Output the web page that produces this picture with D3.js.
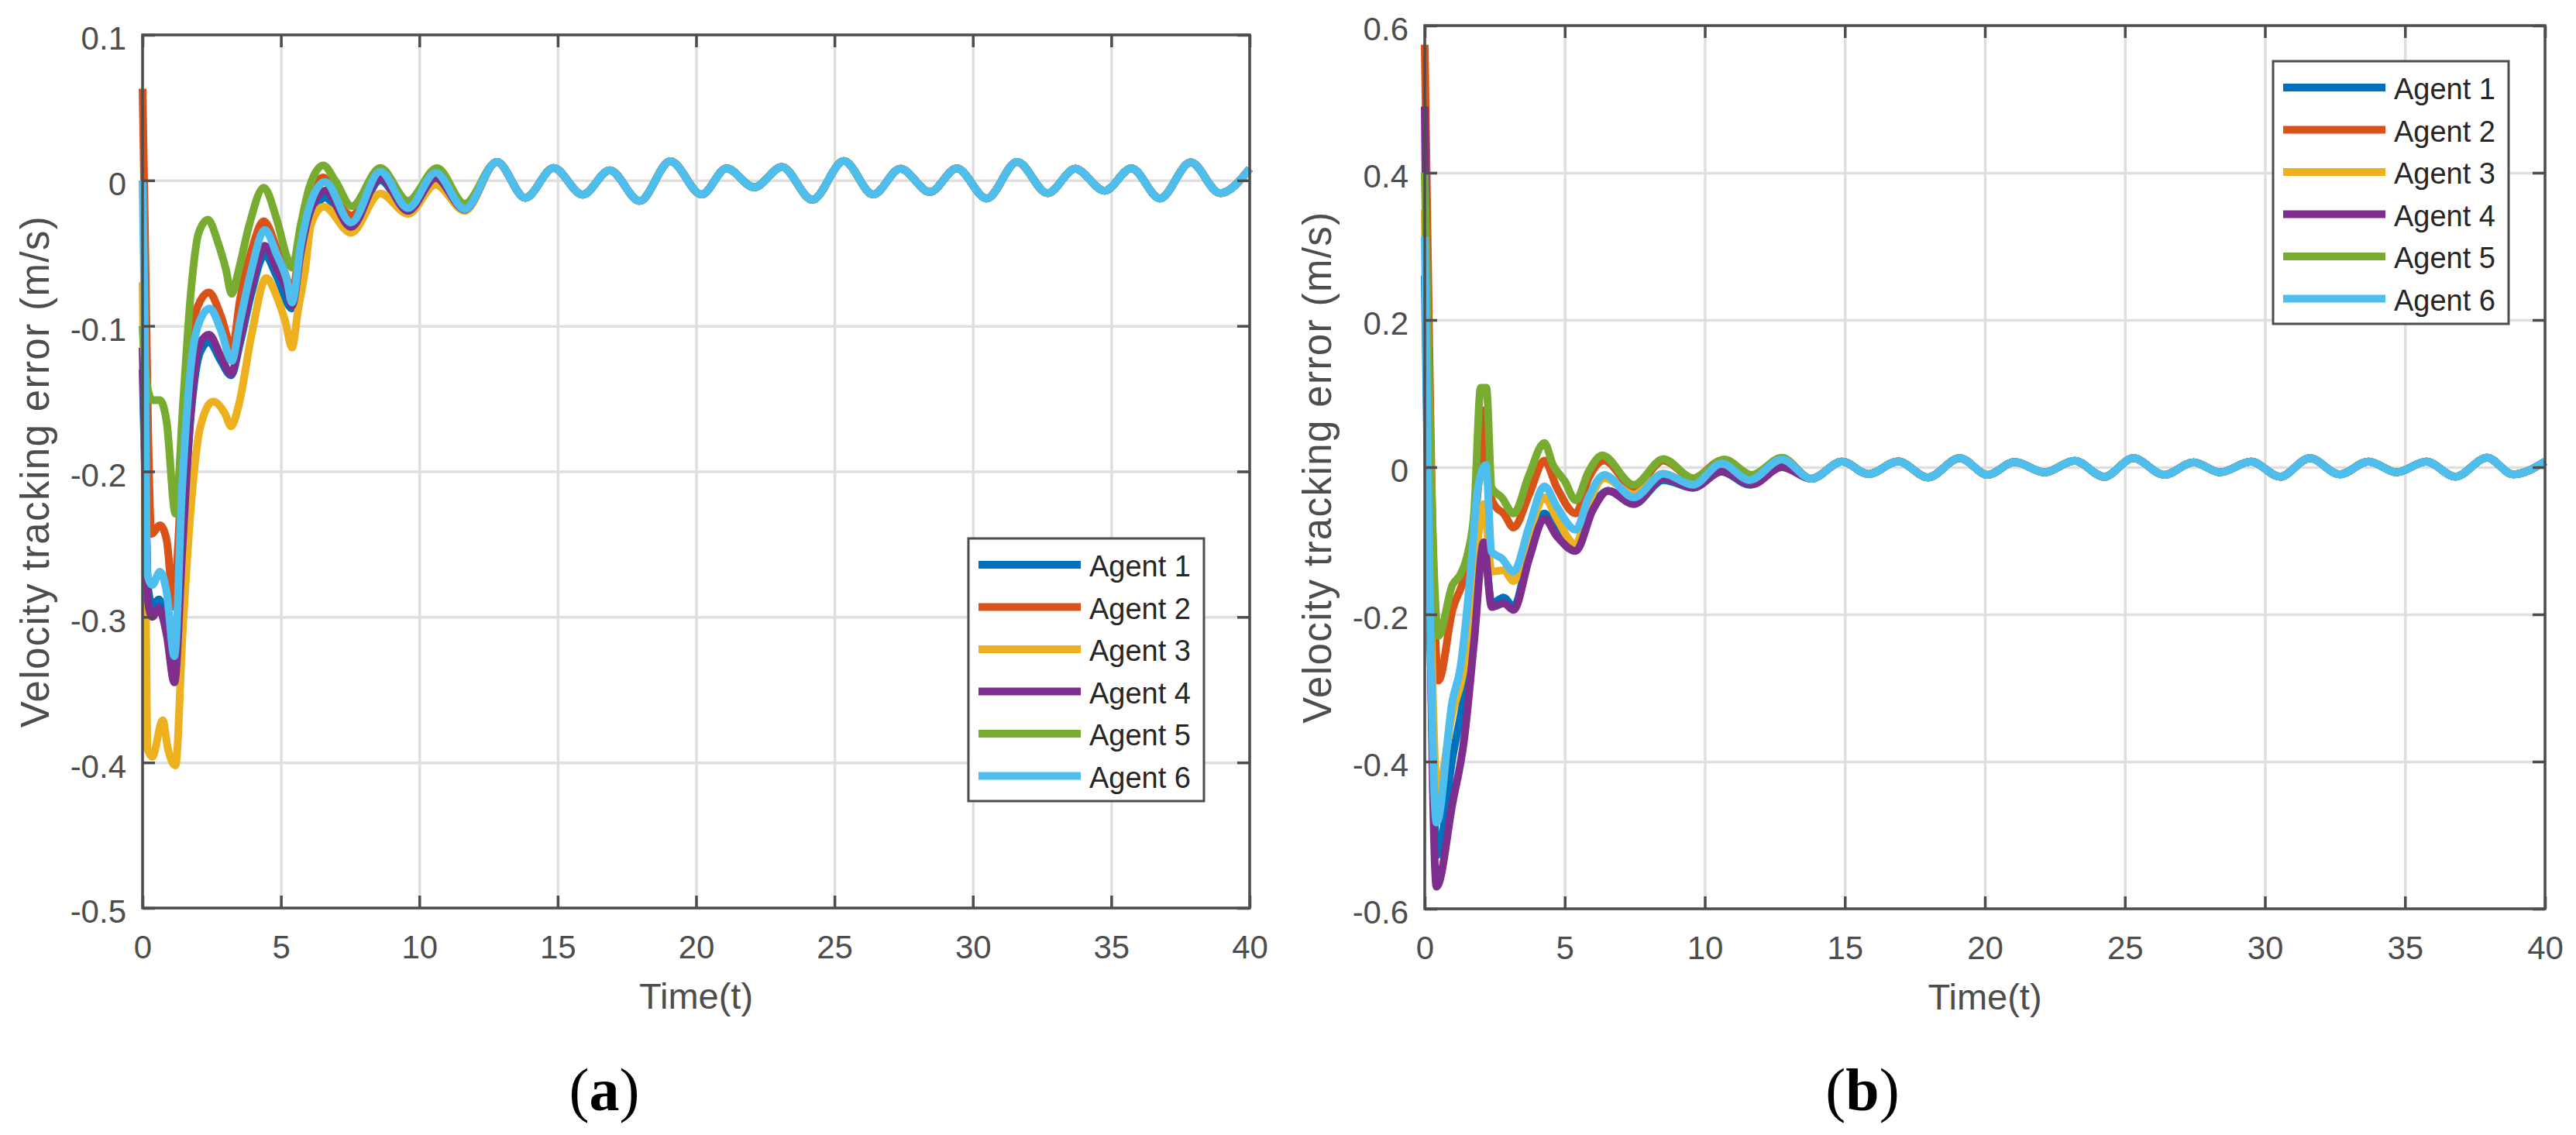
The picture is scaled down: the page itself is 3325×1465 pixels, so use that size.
<!DOCTYPE html>
<html>
<head>
<meta charset="utf-8">
<script src="https://cdn.jsdelivr.net/npm/d3@7"></script>
<style>
  body { margin: 0; background: #fff; }
  svg { display: block; }
</style>
</head>
<body>
<svg width="3325" height="1465"></svg>
<script>
// ---- data ----
const agents = ['Agent 1', 'Agent 2', 'Agent 3', 'Agent 4', 'Agent 5', 'Agent 6'];
const colors = ['#0072bd', '#d95319', '#edb120', '#7e2f8e', '#77ac30', '#4dbeee'];
const xTicks = [0, 5, 10, 15, 20, 25, 30, 35, 40];
const yTicksA = [-0.5, -0.4, -0.3, -0.2, -0.1, 0, 0.1];
const yTicksB = [-0.6, -0.4, -0.2, 0, 0.2, 0.4, 0.6];

// (a) transient part of each agent, [time, error]
const a1 = [[0,-0.13],[0.1,-0.21],[0.2,-0.28],[0.35,-0.292],[0.59,-0.288],[0.87,-0.308],[1.15,-0.339],[1.43,-0.25],[1.75,-0.16],[2.08,-0.118],[2.4,-0.111],[2.83,-0.124],[3.2,-0.134],[3.52,-0.112],[3.94,-0.077],[4.41,-0.051],[4.85,-0.066],[5.4,-0.088],[5.72,-0.055],[6.03,-0.03],[6.59,-0.012],[7.53,-0.032],[8.59,0.0],[9.59,-0.021],[10.59,0.0017],[11.64,-0.02]];
const a2 = [[0,0.063],[0.1,-0.05],[0.2,-0.17],[0.32,-0.243],[0.63,-0.237],[0.87,-0.247],[1.13,-0.293],[1.3,-0.245],[1.5,-0.17],[1.75,-0.108],[2.08,-0.083],[2.4,-0.077],[2.83,-0.093],[3.24,-0.115],[3.52,-0.082],[3.94,-0.048],[4.38,-0.028],[4.85,-0.047],[5.22,-0.068],[5.4,-0.078],[5.72,-0.038],[5.97,-0.015],[6.53,0.002],[6.97,-0.013],[7.56,-0.024],[8.59,0.004],[9.59,-0.018],[10.59,0.006],[11.64,-0.019]];
const a3 = [[0,-0.07],[0.08,-0.2],[0.17,-0.39],[0.35,-0.396],[0.73,-0.371],[0.91,-0.39],[1.19,-0.402],[1.45,-0.31],[1.75,-0.224],[2.08,-0.17],[2.55,-0.152],[2.97,-0.16],[3.2,-0.169],[3.48,-0.154],[3.94,-0.106],[4.47,-0.067],[4.85,-0.08],[5.16,-0.097],[5.4,-0.115],[5.62,-0.089],[5.87,-0.062],[6.09,-0.03],[6.55,-0.018],[7.53,-0.036],[8.59,-0.009],[9.59,-0.023],[10.59,-0.003],[11.64,-0.021]];
const a4 = [[0,-0.115],[0.1,-0.2],[0.2,-0.29],[0.35,-0.3],[0.59,-0.294],[0.87,-0.312],[1.15,-0.345],[1.43,-0.256],[1.75,-0.157],[2.08,-0.112],[2.4,-0.106],[2.83,-0.121],[3.2,-0.133],[3.52,-0.109],[3.94,-0.073],[4.41,-0.045],[4.85,-0.061],[5.22,-0.075],[5.4,-0.086],[5.72,-0.049],[6.03,-0.023],[6.59,-0.007],[7.53,-0.032],[8.59,0.0017],[9.59,-0.021],[10.59,0.0017],[11.64,-0.02]];
const a5 = [[0,-0.1],[0.1,-0.13],[0.25,-0.148],[0.35,-0.151],[0.63,-0.151],[0.87,-0.166],[1.19,-0.229],[1.47,-0.151],[1.75,-0.076],[2.03,-0.036],[2.36,-0.027],[2.73,-0.043],[3.01,-0.061],[3.22,-0.078],[3.48,-0.061],[3.85,-0.031],[4.38,-0.005],[4.85,-0.027],[5.22,-0.053],[5.4,-0.06],[5.72,-0.03],[6.03,-0.0045],[6.53,0.0103],[6.97,-0.0005],[7.56,-0.0178],[8.59,0.0085],[9.59,-0.014],[10.64,0.0084],[11.64,-0.016]];
const a6 = [[0,0],[0.08,-0.1],[0.17,-0.27],[0.35,-0.278],[0.63,-0.269],[0.87,-0.283],[1.15,-0.327],[1.43,-0.211],[1.75,-0.127],[2.08,-0.096],[2.43,-0.088],[2.83,-0.103],[3.22,-0.124],[3.52,-0.097],[3.94,-0.061],[4.41,-0.034],[4.85,-0.051],[5.22,-0.069],[5.4,-0.084],[5.72,-0.044],[6.03,-0.018],[6.59,-0.001],[7.53,-0.029],[8.59,0.006],[9.59,-0.019],[10.59,0.0052],[11.64,-0.0198]];
// (a) common tail once all agents agree
const tailA = [[12.8,0.0127],[13.83,-0.012],[14.85,0.0085],[15.9,-0.0098],[16.88,0.007],[17.96,-0.0141],[19.07,0.0132],[20.2,-0.0097],[21.1,0.0083],[22.1,-0.0048],[23.1,0.0092],[24.2,-0.0133],[25.34,0.0133],[26.4,-0.0097],[27.38,0.008],[28.45,-0.008],[29.42,0.0083],[30.5,-0.0124],[31.6,0.0127],[32.7,-0.0088],[33.7,0.008],[34.76,-0.0071],[35.73,0.0083],[36.76,-0.0124],[37.87,0.0124],[38.93,-0.0088],[40,0.008]];

// (b) transient part of each agent
const b1 = [[0,0.26],[0.45,-0.527],[0.99,-0.395],[1.41,-0.308],[1.76,-0.2],[2.11,-0.107],[2.39,-0.185],[2.82,-0.177],[3.17,-0.19],[3.73,-0.115],[4.27,-0.063],[4.72,-0.089],[5.39,-0.107],[5.99,-0.054],[6.55,-0.032],[7.46,-0.05],[8.52,-0.0175],[9.58,-0.028],[10.6,-0.006],[11.6,-0.024],[12.75,0.002]];
const b2 = [[0,0.574],[0.49,-0.29],[0.99,-0.194],[1.41,-0.15],[1.76,-0.08],[1.97,0.0],[2.11,0.077],[2.3,-0.03],[2.5,-0.052],[2.82,-0.063],[3.17,-0.082],[3.73,-0.037],[4.27,0.009],[4.72,-0.028],[5.39,-0.063],[5.85,-0.015],[6.41,0.009],[7.46,-0.028],[8.52,0.009],[9.58,-0.015],[10.6,0.009],[11.6,-0.019],[12.75,0.012]];
const b3 = [[0,0.35],[0.45,-0.44],[0.99,-0.334],[1.41,-0.27],[1.76,-0.15],[2.11,-0.05],[2.39,-0.142],[2.82,-0.14],[3.17,-0.155],[3.73,-0.09],[4.27,-0.041],[4.72,-0.07],[5.39,-0.105],[5.85,-0.05],[6.41,-0.015],[7.46,-0.037],[8.52,-0.009],[9.58,-0.024],[10.6,0.003],[11.6,-0.02],[12.75,0.01]];
const b4 = [[0,0.49],[0.42,-0.57],[0.99,-0.457],[1.41,-0.369],[1.76,-0.238],[2.11,-0.102],[2.39,-0.19],[2.82,-0.185],[3.17,-0.194],[3.73,-0.124],[4.27,-0.07],[4.72,-0.094],[5.39,-0.114],[5.99,-0.059],[6.55,-0.032],[7.46,-0.05],[8.52,-0.015],[9.58,-0.028],[10.6,-0.006],[11.68,-0.0235],[12.75,0.0]];
const b5 = [[0,0.4],[0.49,-0.229],[0.99,-0.16],[1.27,-0.146],[1.55,-0.115],[1.76,-0.063],[2.0,0.108],[2.2,0.108],[2.39,-0.028],[2.75,-0.041],[3.17,-0.063],[3.73,-0.01],[4.27,0.033],[4.58,0.003],[5.0,-0.019],[5.39,-0.045],[5.85,-0.006],[6.34,0.016],[7.46,-0.024],[8.52,0.011],[9.58,-0.015],[10.7,0.0105],[11.68,-0.0105],[12.75,0.013]];
const b6 = [[0,0.313],[0.42,-0.483],[0.99,-0.317],[1.27,-0.273],[1.62,-0.15],[1.9,-0.028],[2.18,0.003],[2.39,-0.115],[2.75,-0.124],[3.17,-0.142],[3.73,-0.08],[4.27,-0.026],[4.72,-0.054],[5.39,-0.085],[5.85,-0.041],[6.41,-0.0105],[7.46,-0.041],[8.52,-0.009],[9.58,-0.024],[10.6,0.005],[11.6,-0.0175],[12.75,0.0105]];
// (b) common tail
const tailB = [[13.8,-0.0158],[14.9,0.0077],[15.84,-0.0095],[16.9,0.008],[17.97,-0.014],[19.1,0.0123],[20.1,-0.0105],[21.06,0.007],[22.13,-0.007],[23.2,0.0088],[24.26,-0.013],[25.3,0.0123],[26.4,-0.0105],[27.45,0.0067],[28.4,-0.007],[29.5,0.0077],[30.54,-0.013],[31.6,0.0123],[32.67,-0.0098],[33.7,0.0077],[34.7,-0.007],[35.76,0.0077],[36.8,-0.013],[37.93,0.013],[38.86,-0.0098],[40,0.0077]];

// ---- layout ----
const svg = d3.select('svg');
const sans = 'Liberation Sans, Arial, Helvetica, sans-serif';
const axisColor = '#4d4d4d';

const panels = [
  { left: 184, right: 1613, top: 45, bottom: 1172, yDomain: [-0.5, 0.1], yTicks: yTicksA,
    series: [a1, a2, a3, a4, a5, a6].map(s => s.concat(tailA)),
    legend: { x: 1250, y: 695 }, caption: 'a', capX: 780 },
  { left: 1839, right: 3285, top: 33, bottom: 1173, yDomain: [-0.6, 0.6], yTicks: yTicksB,
    series: [b1, b2, b3, b4, b5, b6].map(s => s.concat(tailB)),
    legend: { x: 2934, y: 79 }, caption: 'b', capX: 2404 }
];

const yFmt = d => d === 0 ? '0' : d.toFixed(1);

panels.forEach(p => {
  const x = d3.scaleLinear().domain([0, 40]).range([p.left, p.right]);
  const y = d3.scaleLinear().domain(p.yDomain).range([p.bottom, p.top]);
  const w = p.right - p.left;
  const h = p.bottom - p.top;
  const g = svg.append('g');

  // grid
  g.append('g')
    .attr('transform', `translate(0, ${p.bottom})`)
    .call(d3.axisBottom(x).tickValues(xTicks).tickSize(-h).tickFormat(''))
    .call(a => a.select('.domain').remove())
    .selectAll('line').attr('stroke', '#dfdfdf').attr('stroke-width', 3.5);
  g.append('g')
    .attr('transform', `translate(${p.left}, 0)`)
    .call(d3.axisLeft(y).tickValues(p.yTicks).tickSize(-w).tickFormat(''))
    .call(a => a.select('.domain').remove())
    .selectAll('line').attr('stroke', '#dfdfdf').attr('stroke-width', 3.5);

  // data lines, agent 1 first so agent 6 ends on top
  const line = d3.line()
    .x(d => x(d[0]))
    .y(d => y(d[1]))
    .curve(d3.curveMonotoneX);
  g.append('g').selectAll('path')
    .data(p.series)
    .join('path')
    .attr('d', line)
    .attr('fill', 'none')
    .attr('stroke', (d, i) => colors[i])
    .attr('stroke-width', 10)
    .attr('stroke-linejoin', 'round');

  // axes with inward ticks
  const styleAxis = a => {
    a.select('.domain').remove();
    a.selectAll('line').attr('stroke', axisColor).attr('stroke-width', 3.5);
    a.attr('font-family', sans).attr('font-size', 42);
    a.selectAll('text').attr('fill', axisColor);
  };
  g.append('g')
    .attr('transform', `translate(0, ${p.bottom})`)
    .call(d3.axisBottom(x).tickValues(xTicks).tickSizeInner(-16).tickSizeOuter(0).tickPadding(35).tickFormat(d => String(d)))
    .call(styleAxis);
  g.append('g')
    .attr('transform', `translate(0, ${p.top})`)
    .call(d3.axisTop(x).tickValues(xTicks).tickSizeInner(-16).tickSizeOuter(0).tickFormat(''))
    .call(styleAxis);
  g.append('g')
    .attr('transform', `translate(${p.left}, 0)`)
    .call(d3.axisLeft(y).tickValues(p.yTicks).tickSizeInner(-16).tickSizeOuter(0).tickPadding(21).tickFormat(yFmt))
    .call(styleAxis)
    .selectAll('text').attr('dy', '0.45em');
  g.append('g')
    .attr('transform', `translate(${p.right}, 0)`)
    .call(d3.axisRight(y).tickValues(p.yTicks).tickSizeInner(-16).tickSizeOuter(0).tickFormat(''))
    .call(styleAxis);

  // box
  g.append('rect')
    .attr('x', p.left).attr('y', p.top)
    .attr('width', w).attr('height', h)
    .attr('fill', 'none')
    .attr('stroke', axisColor)
    .attr('stroke-width', 3.5);

  // axis labels
  g.append('text')
    .attr('x', (p.left + p.right) / 2)
    .attr('y', p.bottom + 130)
    .attr('text-anchor', 'middle')
    .attr('font-family', sans).attr('font-size', 47)
    .attr('fill', axisColor)
    .text('Time(t)');
  g.append('text')
    .attr('transform', `translate(${p.left - 121}, ${(p.top + p.bottom) / 2}) rotate(-90)`)
    .attr('text-anchor', 'middle')
    .attr('font-family', sans).attr('font-size', 51)
    .attr('letter-spacing', 1.4)
    .attr('fill', axisColor)
    .text('Velocity tracking error (m/s)');

  // legend
  const lg = g.append('g').attr('transform', `translate(${p.legend.x}, ${p.legend.y})`);
  lg.append('rect')
    .attr('width', 304).attr('height', 339)
    .attr('fill', '#fff')
    .attr('stroke', axisColor)
    .attr('stroke-width', 3);
  const rows = lg.selectAll('g.row')
    .data(agents)
    .join('g')
    .attr('class', 'row')
    .attr('transform', (d, i) => `translate(0, ${34 + i * 54.5})`);
  rows.append('line')
    .attr('x1', 13).attr('x2', 145)
    .attr('stroke', (d, i) => colors[i])
    .attr('stroke-width', 10);
  rows.append('text')
    .attr('x', 156).attr('y', 15)
    .attr('font-family', sans).attr('font-size', 38)
    .attr('fill', '#262626')
    .text(d => d);

  // sub-figure caption
  const cap = g.append('text')
    .attr('x', p.capX).attr('y', 1433)
    .attr('text-anchor', 'middle')
    .attr('font-family', 'Liberation Serif, Times New Roman, serif')
    .attr('font-size', 78)
    .attr('fill', '#000');
  cap.append('tspan').text('(');
  cap.append('tspan').attr('font-weight', 'bold').text(p.caption);
  cap.append('tspan').text(')');
});
</script>
</body>
</html>
